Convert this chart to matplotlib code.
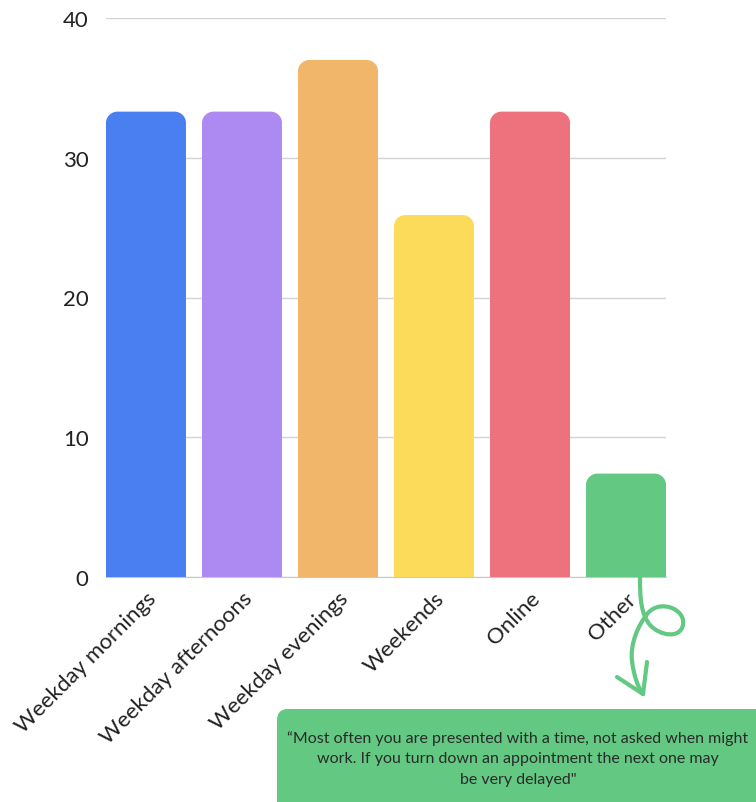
import matplotlib
matplotlib.use("Agg")
import matplotlib.pyplot as plt
from matplotlib.path import Path
from matplotlib.patches import PathPatch, FancyBboxPatch

plt.rcParams['font.family'] = ['Lato', 'DejaVu Sans']

categories = ['Weekday mornings', 'Weekday afternoons', 'Weekday evenings',
              'Weekends', 'Online', 'Other']
values = [33.3, 33.3, 37.0, 25.9, 33.3, 7.4]
colors = ['#4a7ff2', '#ad8af2', '#f2b66b', '#fddb5a', '#ee727d', '#62c882']
yticks = [0, 10, 20, 30, 40]
quote = ('\u201cMost often you are presented with a time, not asked when might\n'
         'work. If you turn down an appointment the next one may\n'
         'be very delayed"')

W, H = 756, 803


def px(x, y):
    """pixel position (top-left origin) -> figure fraction"""
    return (x / W, 1 - y / H)


def rounded_top(x0, w, h, rx, ry):
    """Path of a bar with rounded top corners."""
    k = 0.55
    x1 = x0 + w
    verts = [(x0, 0), (x0, h - ry),
             (x0, h - ry + k * ry), (x0 + rx - k * rx, h), (x0 + rx, h),
             (x1 - rx, h),
             (x1 - rx + k * rx, h), (x1, h - ry + k * ry), (x1, h - ry),
             (x1, 0), (x0, 0)]
    codes = [Path.MOVETO, Path.LINETO,
             Path.CURVE4, Path.CURVE4, Path.CURVE4,
             Path.LINETO,
             Path.CURVE4, Path.CURVE4, Path.CURVE4,
             Path.LINETO, Path.CLOSEPOLY]
    return Path(verts, codes)


fig = plt.figure(figsize=(W / 100, H / 100), dpi=100)
ax = fig.add_axes([106 / W, 225 / H, 560 / W, 559 / H])

bars = ax.bar(range(len(categories)), values, width=0.833, color=colors, alpha=0)
for b, c in zip(bars, colors):
    p = rounded_top(b.get_x(), b.get_width(), b.get_height(), 0.12, 0.8)
    ax.add_patch(PathPatch(p, facecolor=c, edgecolor='none', zorder=3))

ax.set_xlim(-0.4165, 5.4165)
ax.set_ylim(0, 40)
ax.set_yticks(yticks)
ax.yaxis.grid(True, color='#d4d4d4', linewidth=1)
ax.set_axisbelow(True)
for s in ['top', 'right', 'left']:
    ax.spines[s].set_visible(False)
ax.spines['bottom'].set_color('#c8c8c8')
ax.tick_params(axis='y', length=0, pad=12.5, labelsize=16, labelcolor='#222222')
ax.tick_params(axis='x', length=0, pad=8, labelsize=16, labelcolor='#222222')
ax.set_xticks(range(len(categories)))
ax.set_xticklabels(categories, rotation=45, ha='right', va='top',
                   rotation_mode='anchor')

# curly arrow from the "Other" bar down to the quote box
arrow = [px(640, 578),
         px(640, 600), px(641, 615), px(650, 626),
         px(660, 637), px(680, 640), px(683, 626),
         px(686, 610), px(660, 600), px(648, 614),
         px(638, 626), px(630, 645), px(632, 662),
         px(634, 678), px(638, 688), px(643, 695)]
acodes = [Path.MOVETO] + [Path.CURVE4] * 15
fig.add_artist(PathPatch(Path(arrow, acodes), transform=fig.transFigure,
                         facecolor='none', edgecolor='#62c882', linewidth=3,
                         capstyle='round'))
for end in [px(617, 678), px(647, 663)]:
    head = Path([end, px(643, 695)], [Path.MOVETO, Path.LINETO])
    fig.add_artist(PathPatch(head, transform=fig.transFigure, facecolor='none',
                             edgecolor='#62c882', linewidth=3, capstyle='round'))

# quote box
x0, y0 = px(277, 818)
fig.add_artist(FancyBboxPatch((x0, y0), 500 / W, 108 / H,
                              boxstyle='round,pad=0,rounding_size=0.014',
                              transform=fig.transFigure, facecolor='#62c882',
                              edgecolor='none'))
tx, ty = px(518, 759)
fig.text(tx, ty, quote, ha='center', va='center', fontsize=11.5,
         color='#2a2a2a', linespacing=1.6)

fig.savefig('out.png', dpi=100)
